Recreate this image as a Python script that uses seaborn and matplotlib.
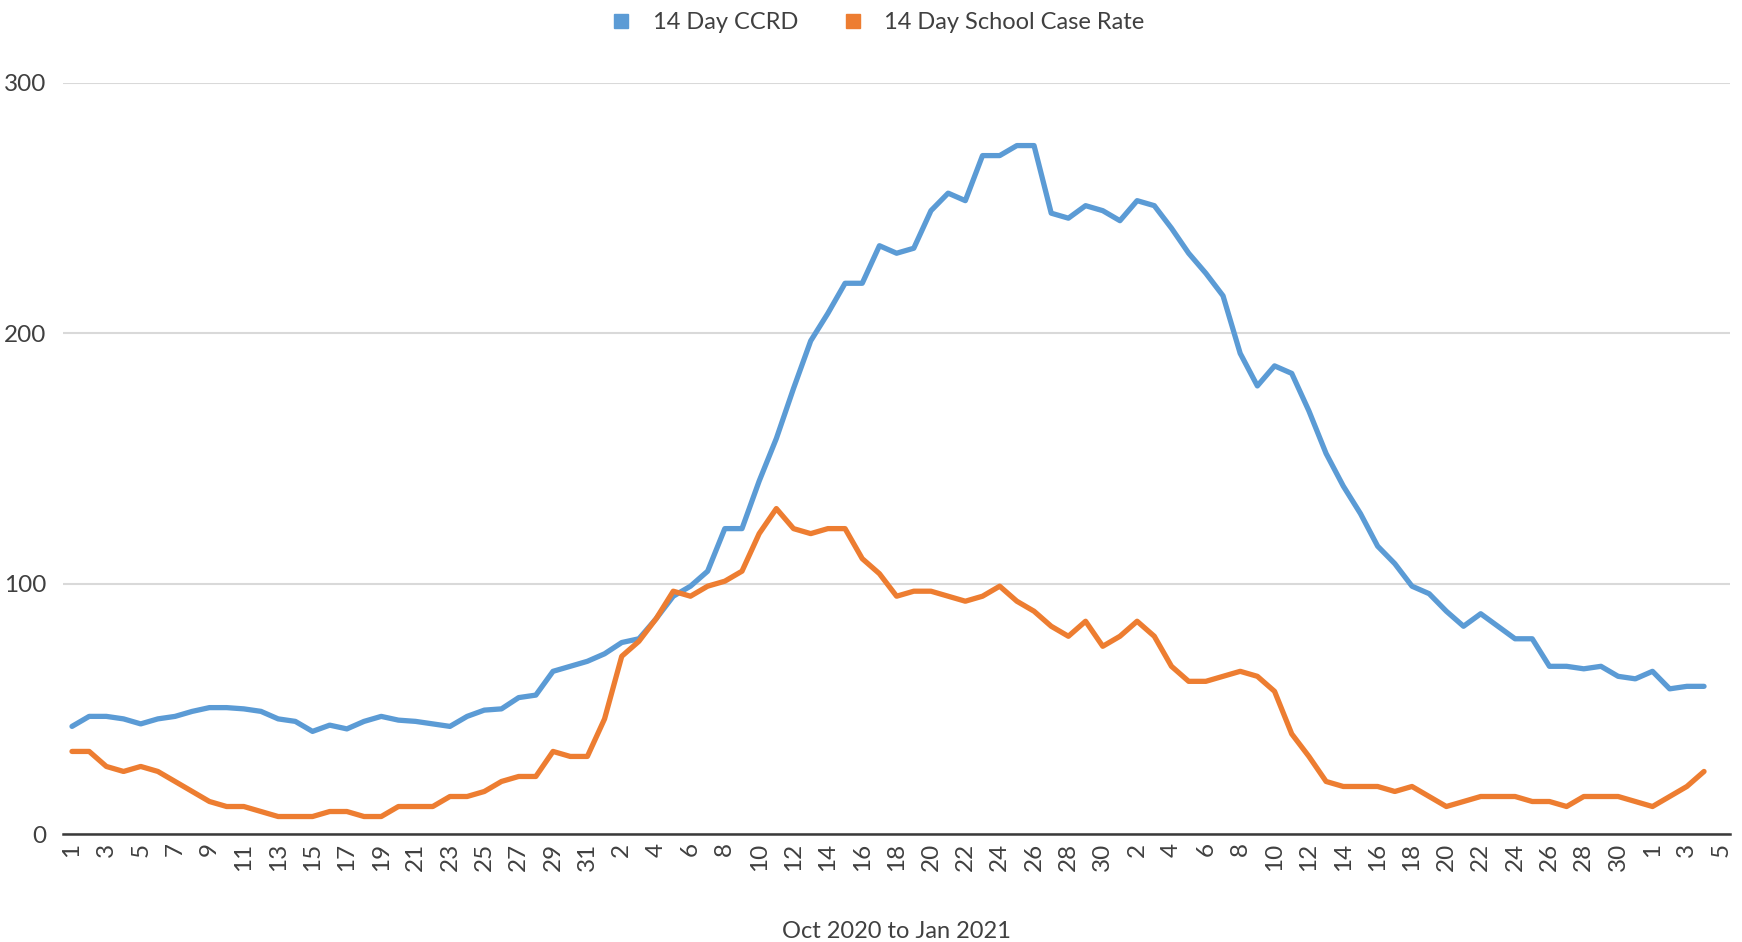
import numpy as np
import pandas as pd
import matplotlib.pyplot as plt
import seaborn as sns
from matplotlib.lines import Line2D

# categories: every day from 1 Oct 2020 to 5 Jan 2021
dates = pd.date_range('2020-10-01', '2021-01-05', freq='D')
day_labels = [str(d.day) for d in dates]

# 14 day CCRD, 1 Oct 2020 .. 4 Jan 2021
ccrd = [43, 47, 47, 46, 44, 46, 47, 49, 50.5, 50.5, 50, 49, 46, 45, 41, 43.5,
        42, 45, 47, 45.5, 45, 44, 43, 47, 49.5, 50, 54.5, 55.5, 65, 67,
        69, 72, 76.5, 78, 86, 95, 99, 105, 122, 122, 141, 158, 178, 197, 208, 220,
        220, 235, 232, 234, 249, 256, 253, 271, 271, 275, 275, 248, 246, 251, 249,
        245, 253, 251, 242, 232, 224, 215, 192, 179, 187, 184, 169, 152, 139, 128,
        115, 108, 99, 96, 89, 83, 88, 83, 78, 78, 67, 67, 66, 67, 63, 62,
        65, 58, 59, 59]

# 14 day school case rate
school = [33, 33, 27, 25, 27, 25, 21, 17, 13, 11, 11, 9, 7, 7, 7, 9,
          9, 7, 7, 11, 11, 11, 15, 15, 17, 21, 23, 23, 33, 31,
          31, 46, 71, 77, 86, 97, 95, 99, 101, 105, 120, 130, 122, 120, 122, 122,
          110, 104, 95, 97, 97, 95, 93, 95, 99, 93, 89, 83, 79, 85, 75,
          79, 85, 79, 67, 61, 61, 63, 65, 63, 57, 40, 31, 21, 19, 19,
          19, 17, 19, 15, 11, 13, 15, 15, 15, 13, 13, 11, 15, 15, 15, 13,
          11, 15, 19, 25]

series_names = ['14 Day CCRD', '14 Day School Case Rate']
colors = ['#5B9BD5', '#ED7D31']

n = len(ccrd)
df = pd.DataFrame({
    'idx': list(range(n)) * 2,
    'value': ccrd + school,
    'series': [series_names[0]] * n + [series_names[1]] * n,
})

sns.set_style('white')
plt.rcParams['font.family'] = ['Lato', 'DejaVu Sans']

fig = plt.figure(figsize=(17.42, 9.42), dpi=100)
ax = fig.add_axes([0.0364, 0.1146, 0.9566, 0.7973])

sns.lineplot(data=df, x='idx', y='value', hue='series', palette=colors,
             linewidth=3.8, legend=False, ax=ax)

ax.set_xlim(-0.5, len(dates) - 0.5)
ax.set_ylim(0, 300)
ax.set_yticks([0, 100, 200, 300])
ax.yaxis.grid(True, color='#D9D9D9', linewidth=1.5)
ax.set_axisbelow(True)

ticks = list(range(0, len(dates), 2))
ax.set_xticks(ticks)
ax.set_xticklabels([day_labels[i] for i in ticks], rotation=90)
ax.tick_params(axis='both', length=0, labelsize=17.5, colors='#404040')
ax.tick_params(axis='x', pad=6)
ax.tick_params(axis='y', pad=12)

for s in ['top', 'right', 'left']:
    ax.spines[s].set_visible(False)
ax.spines['bottom'].set_color('#3a3a3a')
ax.spines['bottom'].set_linewidth(1.8)

ax.set_ylabel('')
ax.set_xlabel('Oct 2020 to Jan 2021', fontsize=17, color='#404040', labelpad=36)

handles = [Line2D([], [], marker='s', linestyle='', color=c, markersize=10)
           for c in colors]
fig.legend(handles, series_names, loc='upper center', ncol=2, frameon=False,
           fontsize=17, bbox_to_anchor=(0.5, 1.01), handletextpad=0.35,
           columnspacing=1.3, labelcolor='#404040')

fig.savefig('out.png', dpi=100)
